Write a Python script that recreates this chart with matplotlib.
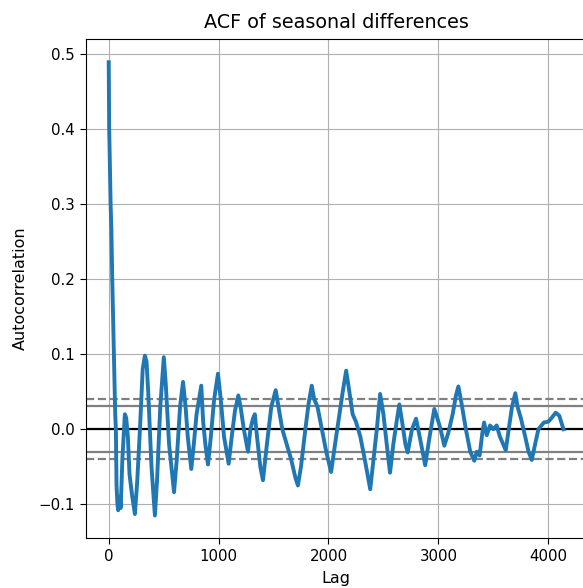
import numpy as np
import matplotlib
matplotlib.use("Agg")
import matplotlib.pyplot as plt

# ACF values (lag, autocorrelation)
n_obs = 4138
lags = [1, 5, 8, 18, 25, 33, 48, 60, 66, 72, 80, 87, 100, 110, 125, 148, 160, 175,
        190, 215, 239, 260, 285, 310, 330, 345, 360, 390, 421, 440, 470, 502, 520,
        550, 595, 620, 650, 677, 700, 720, 752, 775, 800, 843, 860, 880, 904, 930,
        960, 995, 1020, 1050, 1092, 1120, 1150, 1180, 1200, 1230, 1268, 1290, 1313,
        1330, 1350, 1380, 1404, 1440, 1480, 1520, 1545, 1580, 1620, 1660, 1700, 1722,
        1750, 1790, 1820, 1848, 1870, 1900, 1940, 1980, 2024, 2060, 2100, 2130, 2161,
        2180, 2220, 2250, 2290, 2330, 2380, 2410, 2440, 2470, 2500, 2530, 2560, 2590,
        2620, 2645, 2670, 2700, 2721, 2760, 2797, 2830, 2880, 2920, 2963, 2990, 3020,
        3054, 3090, 3130, 3160, 3182, 3210, 3250, 3290, 3326, 3350, 3375, 3400, 3416,
        3440, 3470, 3500, 3530, 3560, 3613, 3640, 3670, 3700, 3720, 3750, 3790, 3820,
        3850, 3880, 3910, 3960, 4000, 4030, 4067, 4100, 4138]
acf = [0.489, 0.40, 0.38, 0.30, 0.267, 0.20, 0.10, 0.02, 0.0, -0.075, -0.10, -0.108,
       -0.09, -0.105, -0.04, 0.02, 0.015, -0.01, -0.06, -0.09, -0.113, -0.07, 0.0,
       0.08, 0.098, 0.09, 0.05, -0.05, -0.115, -0.07, 0.03, 0.096, 0.06, -0.02,
       -0.084, -0.04, 0.03, 0.063, 0.03, -0.01, -0.053, -0.02, 0.02, 0.058, 0.01,
       -0.02, -0.047, -0.01, 0.04, 0.074, 0.04, -0.01, -0.046, -0.01, 0.025, 0.045,
       0.03, 0.0, -0.03, 0.0, 0.014, 0.02, -0.01, -0.05, -0.068, -0.02, 0.03, 0.052,
       0.03, 0.0, -0.02, -0.04, -0.065, -0.075, -0.05, 0.0, 0.035, 0.058, 0.04, 0.03,
       0.0, -0.03, -0.057, -0.02, 0.02, 0.05, 0.078, 0.06, 0.02, 0.01, -0.01, -0.04,
       -0.08, -0.04, 0.0, 0.047, 0.02, -0.02, -0.058, -0.02, 0.01, 0.033, 0.01, -0.02,
       -0.031, 0.0, 0.014, -0.01, -0.048, -0.01, 0.027, 0.015, 0.0, -0.022, -0.005,
       0.02, 0.045, 0.057, 0.035, 0.0, -0.03, -0.042, -0.03, -0.035, -0.005, 0.009,
       -0.008, 0.005, 0.0, 0.005, -0.01, -0.028, 0.0, 0.03, 0.048, 0.03, 0.015, -0.01,
       -0.03, -0.041, -0.02, 0.0, 0.009, 0.01, 0.015, 0.022, 0.018, 0.0]

z95 = 1.959963984540054
z99 = 2.5758293035489004

plt.rcParams["xtick.labelsize"] = 10.8
plt.rcParams["ytick.labelsize"] = 10.8
plt.rcParams["xtick.major.size"] = 4.3
plt.rcParams["ytick.major.size"] = 4.3

fig = plt.figure(figsize=(5.83, 5.88), dpi=100)
ax = fig.add_axes([0.1475, 0.0850, 0.858, 0.8487])

ax.axhline(y=z99 / np.sqrt(n_obs), linestyle="--", color="grey", lw=1.6)
ax.axhline(y=z95 / np.sqrt(n_obs), color="grey", lw=1.6)
ax.axhline(y=0.0, color="black", lw=1.6)
ax.axhline(y=-z95 / np.sqrt(n_obs), color="grey", lw=1.6)
ax.axhline(y=-z99 / np.sqrt(n_obs), linestyle="--", color="grey", lw=1.6)
ax.plot(lags, acf, color="#1f77b4", lw=2.8)

ax.set_xlim(1 - 0.05 * (n_obs - 1), n_obs + 0.05 * (n_obs - 1))
ax.set_ylim(-0.145, 0.52)
ax.set_xticks([0, 1000, 2000, 3000, 4000])
ax.set_yticks([-0.1, 0.0, 0.1, 0.2, 0.3, 0.4, 0.5])
ax.set_xlabel("Lag", fontsize=11.5, labelpad=5)
ax.set_ylabel("Autocorrelation", fontsize=11.5, labelpad=8)
ax.set_title("ACF of seasonal differences", fontsize=13.8, pad=8)
ax.grid()

fig.savefig("out.png", dpi=100)
